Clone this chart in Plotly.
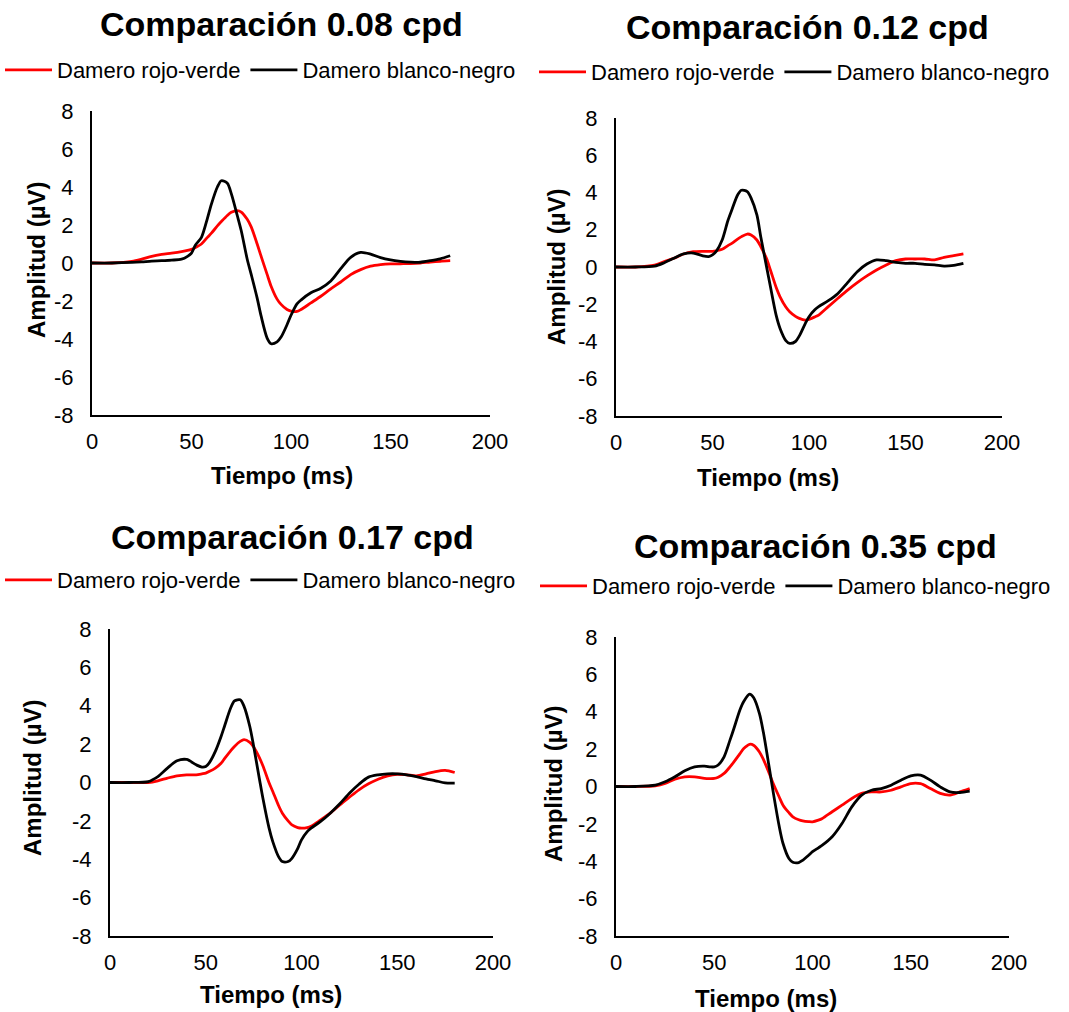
import plotly.graph_objects as go

# Time grid (ms) shared by every panel
tiempo = [0, 10, 20, 25, 30, 35, 40, 45, 48, 50, 52, 55, 58, 60, 63, 65, 68, 70, 73, 75,
          78, 80, 83, 85, 88, 90, 93, 95, 98, 100, 103, 105, 110, 115, 120, 125, 130,
          135, 140, 145, 150, 155, 160, 165, 170, 175, 180]

# 0.08 cpd
rv_008 = [0, 0, 0.08, 0.2, 0.35, 0.45, 0.52, 0.6, 0.66, 0.72, 0.82, 1.0, 1.35, 1.57, 1.95,
          2.18, 2.5, 2.67, 2.76, 2.68, 2.3, 1.9, 1.0, 0.35, -0.6, -1.22, -1.9, -2.18, -2.45,
          -2.53, -2.55, -2.45, -2.1, -1.75, -1.36, -1.0, -0.61, -0.35, -0.17, -0.09, -0.05,
          -0.04, -0.03, 0.0, 0.05, 0.09, 0.12]
bn_008 = [0, 0, 0.03, 0.06, 0.1, 0.12, 0.15, 0.2, 0.35, 0.52, 0.95, 1.35, 2.35, 3.1, 4.0,
          4.33, 4.2, 3.65, 2.5, 1.7, 0.2, -0.6, -1.85, -2.8, -3.95, -4.25, -4.15, -3.9, -3.25,
          -2.75, -2.15, -1.95, -1.57, -1.33, -0.95, -0.3, 0.3, 0.56, 0.47, 0.28, 0.16, 0.09,
          0.05, 0.04, 0.12, 0.22, 0.38]

# 0.12 cpd
rv_012 = [0, 0, 0.1, 0.29, 0.47, 0.7, 0.82, 0.84, 0.84, 0.84, 0.87, 0.95, 1.15, 1.27, 1.5,
          1.63, 1.77, 1.72, 1.45, 1.1, 0.45, -0.16, -1.1, -1.6, -2.15, -2.4, -2.65, -2.76,
          -2.85, -2.81, -2.68, -2.58, -2.13, -1.68, -1.24, -0.84, -0.48, -0.16, 0.11, 0.34,
          0.43, 0.43, 0.43, 0.38, 0.52, 0.61, 0.7]
bn_012 = [0, 0, 0.05, 0.23, 0.47, 0.7, 0.75, 0.6, 0.56, 0.65, 0.85, 1.45, 2.5, 3.06, 3.87,
          4.12, 4.05, 3.7, 2.8, 1.63, 0.02, -1.05, -2.6, -3.3, -3.95, -4.1, -4.0, -3.7, -3.05,
          -2.67, -2.3, -2.13, -1.81, -1.42, -0.84, -0.25, 0.16, 0.38, 0.34, 0.25, 0.2, 0.2,
          0.14, 0.12, 0.05, 0.09, 0.2]

# 0.17 cpd
rv_017 = [0, 0, 0, 0.09, 0.23, 0.35, 0.4, 0.4, 0.45, 0.49, 0.58, 0.75, 1.0, 1.27, 1.65,
          1.88, 2.14, 2.23, 2.09, 1.85, 1.3, 0.83, 0.0, -0.47, -1.2, -1.6, -2.0, -2.21, -2.35,
          -2.38, -2.35, -2.28, -1.95, -1.6, -1.17, -0.77, -0.38, -0.07, 0.17, 0.35, 0.43,
          0.4, 0.35, 0.45, 0.57, 0.63, 0.52]
bn_017 = [0, 0, 0.05, 0.31, 0.75, 1.13, 1.2, 0.92, 0.8, 0.83, 1.05, 1.62, 2.4, 3.0, 3.88,
          4.25, 4.31, 3.97, 2.92, 1.9, 0.2, -0.9, -2.35, -3.08, -3.86, -4.12, -4.12, -3.95,
          -3.45, -2.99, -2.56, -2.38, -2.03, -1.6, -1.11, -0.56, -0.09, 0.28, 0.4, 0.45, 0.45,
          0.4, 0.31, 0.19, 0.09, -0.02, -0.03]

# 0.35 cpd
rv_035 = [0, 0, 0.04, 0.16, 0.39, 0.52, 0.52, 0.43, 0.42, 0.43, 0.5, 0.7, 1.05, 1.32, 1.75,
          2.03, 2.26, 2.21, 1.85, 1.45, 0.7, 0.16, -0.55, -1.0, -1.4, -1.62, -1.78, -1.84,
          -1.88, -1.89, -1.8, -1.71, -1.35, -1.0, -0.64, -0.37, -0.29, -0.29, -0.2, -0.02,
          0.16, 0.15, -0.11, -0.37, -0.46, -0.29, -0.11]
bn_035 = [0, 0, 0.07, 0.25, 0.52, 0.84, 1.05, 1.09, 1.05, 1.05, 1.15, 1.59, 2.48, 3.1, 4.08,
          4.55, 4.94, 4.76, 3.9, 2.9, 1.0, -0.3, -2.1, -3.05, -3.85, -4.05, -4.07, -3.95,
          -3.68, -3.49, -3.28, -3.14, -2.69, -1.98, -1.09, -0.46, -0.2, -0.11, 0.07, 0.34,
          0.57, 0.61, 0.34, -0.02, -0.29, -0.32, -0.25]

titulos = ["Comparación 0.08 cpd", "Comparación 0.12 cpd",
           "Comparación 0.17 cpd", "Comparación 0.35 cpd"]
series_rv = [rv_008, rv_012, rv_017, rv_035]
series_bn = [bn_008, bn_012, bn_017, bn_035]
nombre_rv = "Damero rojo-verde"
nombre_bn = "Damero blanco-negro"

x_ticks = [0, 50, 100, 150, 200]
y_ticks = [-8, -6, -4, -2, 0, 2, 4, 6, 8]
y_ticktext = ["-8", "-6", "-4", "-2", "0", "2", "4", "6", "8"]

W, H = 1069, 1012
FONT = "Liberation Sans, Arial, sans-serif"


def px(x):
    return x / W


def py(y):
    return 1 - y / H


# Plot-area boxes in pixels: (left, right, top, bottom)
boxes = [(92, 490, 111, 415), (616, 1002, 118, 416),
         (110, 493, 629, 936), (616, 1009, 637, 936)]
# Title centres, legend anchors, axis-title centres (pixels)
title_pos = [(281, 24), (807, 27), (292, 537), (815, 546)]
legend_pos = [(0, 70), (534, 72), (0, 580), (535, 586)]
xtitle_pos = [(282, 476), (768, 478), (271, 994), (766, 998)]
ytitle_pos = [(36, 260), (557, 267), (32, 778), (553, 784)]

fig = go.Figure()
layout = dict(
    width=W, height=H,
    margin=dict(l=0, r=0, t=0, b=0, autoexpand=False),
    paper_bgcolor="white", plot_bgcolor="white",
    font=dict(family=FONT, color="black", size=22),
    annotations=[],
)

for i in range(4):
    n = i + 1
    sfx = "" if n == 1 else str(n)
    leg = "legend" + sfx
    l, r, t, b = boxes[i]
    fig.add_trace(go.Scatter(
        x=tiempo, y=series_rv[i], name=nombre_rv, mode="lines",
        line=dict(color="#ff0000", width=2.8, shape="spline", smoothing=0.8),
        xaxis="x" + sfx, yaxis="y" + sfx, legend=leg))
    fig.add_trace(go.Scatter(
        x=tiempo, y=series_bn[i], name=nombre_bn, mode="lines",
        line=dict(color="#000000", width=2.8, shape="spline", smoothing=0.8),
        xaxis="x" + sfx, yaxis="y" + sfx, legend=leg))

    layout["xaxis" + sfx] = dict(
        domain=[px(l), px(r)], anchor="y" + sfx, range=[0, 200],
        tickvals=x_ticks, showgrid=False, zeroline=False,
        showline=True, linecolor="black", linewidth=2, ticks="",
        ticklabelstandoff=6, tickfont=dict(size=22, family=FONT, color="black"),
        fixedrange=True)
    layout["yaxis" + sfx] = dict(
        domain=[py(b), py(t)], anchor="x" + sfx, range=[-8, 8],
        tickvals=y_ticks, ticktext=y_ticktext, showgrid=False, zeroline=False,
        showline=True, linecolor="black", linewidth=2, ticks="",
        ticklabelstandoff=12, tickfont=dict(size=22, family=FONT, color="black"),
        fixedrange=True)

    lx, ly = legend_pos[i]
    layout[leg] = dict(
        orientation="h", x=px(lx), y=py(ly), xanchor="left", yanchor="middle",
        font=dict(size=22, family=FONT, color="black"), bgcolor="rgba(0,0,0,0)",
        itemwidth=47, tracegroupgap=0, traceorder="normal")

    tx, ty = title_pos[i]
    layout["annotations"].append(dict(
        text="<b>" + titulos[i] + "</b>", x=px(tx), y=py(ty), xref="paper", yref="paper",
        xanchor="center", yanchor="middle", showarrow=False,
        font=dict(size=34, family=FONT, color="black")))
    ax, ay = xtitle_pos[i]
    layout["annotations"].append(dict(
        text="<b>Tiempo (ms)</b>", x=px(ax), y=py(ay), xref="paper", yref="paper",
        xanchor="center", yanchor="middle", showarrow=False,
        font=dict(size=24, family=FONT, color="black")))
    bx, by = ytitle_pos[i]
    layout["annotations"].append(dict(
        text="<b>Amplitud (µV)</b>", x=px(bx), y=py(by), xref="paper", yref="paper",
        xanchor="center", yanchor="middle", showarrow=False, textangle=-90,
        font=dict(size=24, family=FONT, color="black")))

fig.update_layout(**layout)
fig.write_html("out.html")
